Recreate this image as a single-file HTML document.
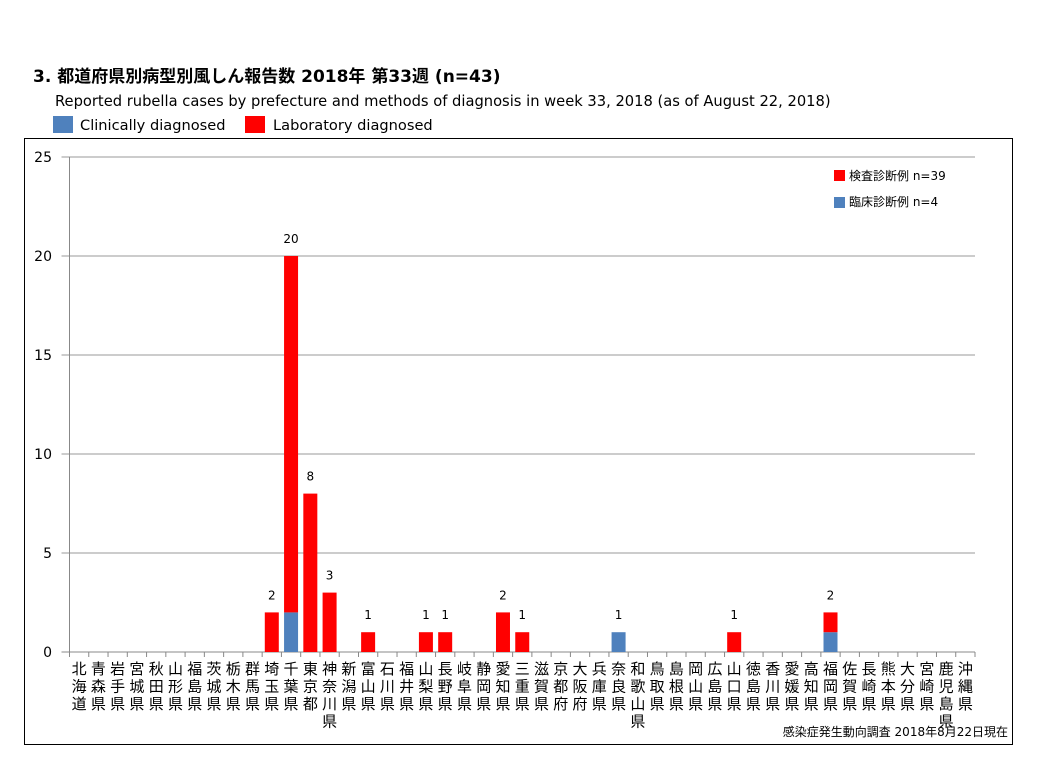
<!DOCTYPE html>
<html><head><meta charset="utf-8"><style>
body{margin:0;background:#fff;width:1037px;height:765px;overflow:hidden;font-family:"DejaVu Sans","Noto Sans CJK JP",sans-serif;}
</style></head><body>
<svg width="1037" height="765" style="font-family:'DejaVu Sans','Noto Sans CJK JP',sans-serif">
<text x="33" y="82" font-size="17" font-weight="bold" fill="#000">3. 都道府県別病型別風しん報告数  2018年 第33週 (n=43)</text>
<text x="55" y="106" font-size="14.7" fill="#000">Reported rubella cases by prefecture and methods of diagnosis in week 33, 2018 (as of August 22, 2018)</text>
<g>
<rect x="53" y="116" width="20" height="17" fill="#4f81bd"/><text x="80" y="130" font-size="14.6">Clinically diagnosed</text>
<rect x="245" y="116" width="20" height="17" fill="#ff0000"/><text x="273" y="130" font-size="14.6">Laboratory diagnosed</text>
</g>
<rect x="24.5" y="138.5" width="988" height="606" fill="none" stroke="#000"/>
<g id="grid"></g><g id="bars"></g><g id="xlabels"></g>
<g>
<rect x="834" y="170" width="11" height="11" fill="#ff0000"/><text x="849" y="180" font-size="12">検査診断例 n=39</text>
<rect x="834" y="197" width="11" height="11" fill="#4f81bd"/><text x="849" y="206" font-size="12">臨床診断例 n=4</text>
</g>
<text x="1008" y="736" font-size="12" text-anchor="end">感染症発生動向調査 2018年8月22日現在</text>
</svg>
<script>
const prefs=["北海道","青森県","岩手県","宮城県","秋田県","山形県","福島県","茨城県","栃木県","群馬県","埼玉県","千葉県","東京都","神奈川県","新潟県","富山県","石川県","福井県","山梨県","長野県","岐阜県","静岡県","愛知県","三重県","滋賀県","京都府","大阪府","兵庫県","奈良県","和歌山県","鳥取県","島根県","岡山県","広島県","山口県","徳島県","香川県","愛媛県","高知県","福岡県","佐賀県","長崎県","熊本県","大分県","宮崎県","鹿児島県","沖縄県"];
const clinical=[0,0,0,0,0,0,0,0,0,0,0,2,0,0,0,0,0,0,0,0,0,0,0,0,0,0,0,0,1,0,0,0,0,0,0,0,0,0,0,1,0,0,0,0,0,0,0];
const laboratory=[0,0,0,0,0,0,0,0,0,0,2,18,8,3,0,1,0,0,1,1,0,0,2,1,0,0,0,0,0,0,0,0,0,0,1,0,0,0,0,1,0,0,0,0,0,0,0];
const yTicks=[0,5,10,15,20,25];
const NS="http://www.w3.org/2000/svg";
const L=69.5,R=975,T=157,B=652,yMax=25;
const bw=(R-L)/prefs.length;
const xs=i=>L+bw*(i+0.5);
const ys=v=>B-(B-T)*v/yMax;
function mk(t,a,p){const e=document.createElementNS(NS,t);for(const k in a)e.setAttribute(k,a[k]);p.appendChild(e);return e;}
const g=document.getElementById('grid');
yTicks.forEach(v=>{
 const ln=mk('line',{x1:L-8,x2:R,y1:ys(v),y2:ys(v),stroke:v===0?'#888':'#999','stroke-width':1},g);
 
 
 const t=mk('text',{x:52,y:ys(v)+5,'font-size':14,'text-anchor':'end'},g);t.textContent=v;
 
 
});
mk('line',{x1:L,x2:L,y1:T,y2:B,stroke:'#888'},g);
for(let i=0;i<=prefs.length;i++){mk('line',{x1:L+bw*i,x2:L+bw*i,y1:B,y2:B+5,stroke:'#888'},g);}
const bg=document.getElementById('bars');
const xl=document.getElementById('xlabels');
const w=14;
prefs.forEach((p,i)=>{
 const c=clinical[i],l=laboratory[i];
 if(c>0){const r=mk('rect',{x:xs(i)-w/2,y:ys(c),width:w,height:B-ys(c),fill:'#4f81bd'},bg);
  
  }
 if(l>0){const r=mk('rect',{x:xs(i)-w/2,y:ys(c+l),width:w,height:ys(c)-ys(c+l),fill:'#ff0000'},bg);
  
  }
 if(c+l>0){const t=mk('text',{x:xs(i),y:ys(c+l)-13,'font-size':12,'text-anchor':'middle'},bg);t.textContent=c+l;
  
  }
 const t=mk('text',{x:xs(i),y:674,'font-size':15,'text-anchor':'middle'},xl);
 
 
 [...p].forEach((ch,k)=>{const s=mk('tspan',{x:xs(i),dy:k?17.5:0},t);s.textContent=ch;});
});
</script>
</body></html>
